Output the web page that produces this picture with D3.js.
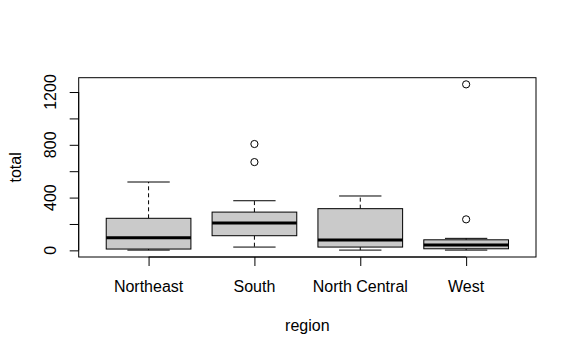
<!DOCTYPE html>
<html><head><meta charset="utf-8">
<script src="https://cdn.jsdelivr.net/npm/d3@7"></script>
<style>body{margin:0;background:#fff}svg{display:block}text{font-family:"Liberation Sans",Arial,sans-serif;fill:#000}</style>
</head><body><svg id="c" width="576" height="355"></svg>
<script>
const categories = ["Northeast","South","North Central","West"];
const whiskerLow  = [2, 25, 2, 2];
const q1          = [10, 111, 25, 12];
const medians     = [96, 207, 78, 40];
const q3          = [243, 290, 316, 80];
const whiskerHigh = [518, 376, 412, 91];
const outliers    = [[], [806, 669], [], [235, 1258]];
const yTicks = [0,200,400,600,800,1000,1200];
const yLabels = [0,400,800,1200];

const svg = d3.select("#c");
const L=78.7, R=536, T=77.7, B=257;
const x = d3.scaleLinear().domain([0.34,4.66]).range([L,R]);
const y = d3.scaleLinear().domain([-50.3,1308.5]).range([B,T]);

const g = svg.append("g");
categories.forEach((c,i)=>{
  const cx = x(i+1), hw = x(0.4)-x(0), cw = x(0.2)-x(0);
  g.append("line").attr("x1",cx).attr("x2",cx).attr("y1",y(q3[i])).attr("y2",y(whiskerHigh[i]))
    .attr("stroke","#000").attr("stroke-dasharray","4,3");
  g.append("line").attr("x1",cx).attr("x2",cx).attr("y1",y(q1[i])).attr("y2",y(whiskerLow[i]))
    .attr("stroke","#000").attr("stroke-dasharray","4,3");
  [whiskerHigh[i],whiskerLow[i]].forEach(v=>g.append("line").attr("x1",cx-cw).attr("x2",cx+cw)
    .attr("y1",y(v)).attr("y2",y(v)).attr("stroke","#000"));
  g.append("rect").attr("x",cx-hw).attr("width",2*hw).attr("y",y(q3[i])).attr("height",y(q1[i])-y(q3[i]))
    .attr("fill","#cacaca").attr("stroke","#000");
  g.append("line").attr("x1",cx-hw).attr("x2",cx+hw).attr("y1",y(medians[i])).attr("y2",y(medians[i]))
    .attr("stroke","#000").attr("stroke-width",3);
  outliers[i].forEach(v=>g.append("circle").attr("cx",cx).attr("cy",y(v)).attr("r",3.6)
    .attr("fill","none").attr("stroke","#000"));
});

svg.append("rect").attr("x",L).attr("y",T).attr("width",R-L).attr("height",B-T)
  .attr("fill","none").attr("stroke","#000");

const ya = d3.axisLeft(y).tickValues(yTicks).tickSize(9).tickFormat(()=>"");
const yg = svg.append("g").attr("transform",`translate(${L},0)`).call(ya);
yg.select(".domain").attr("d",`M0,${y(0)}V${y(1200)}`);
yLabels.forEach(v=>svg.append("text").attr("transform",`translate(55.5,${y(v)}) rotate(-90)`)
  .attr("text-anchor","middle").attr("font-size",16).text(v));

const xa = d3.axisBottom(x).tickValues([1,2,3,4]).tickSize(9).tickFormat(()=>"");
const xg = svg.append("g").attr("transform",`translate(0,${B})`).call(xa);
xg.select(".domain").attr("d",`M${x(1)},0H${x(4)}`);
categories.forEach((c,i)=>svg.append("text").attr("x",x(i+1)).attr("y",292)
  .attr("text-anchor","middle").attr("font-size",16).text(c));

svg.append("text").attr("x",x(2.5)).attr("y",331).attr("text-anchor","middle").attr("font-size",16).text("region");
svg.append("text").attr("transform",`translate(20.5,${(T+B)/2}) rotate(-90)`).attr("text-anchor","middle")
  .attr("font-size",16).text("total");
</script></body></html>
